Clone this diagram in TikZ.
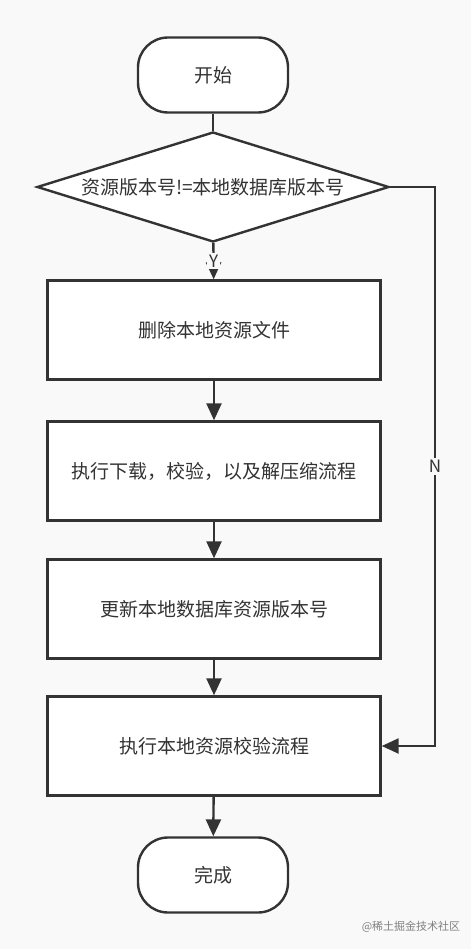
\documentclass[tikz,border=0pt]{standalone}
\usepackage{fontspec}
\setmainfont{Noto Sans CJK SC}
\usetikzlibrary{shapes.geometric,arrows.meta}
\definecolor{ink}{HTML}{333333}
\definecolor{paper}{HTML}{F9F9F9}

\begin{document}
\begin{tikzpicture}[x=1pt,y=-1pt,
  every node/.style={inner sep=0pt,text=ink,font=\fontsize{19}{22}\selectfont},
  box/.style={draw=ink,line width=2.4pt,fill=white,minimum width=333pt,minimum height=99pt},
  term/.style={draw=ink,line width=2.4pt,fill=white,rounded corners=30pt,minimum width=150pt,minimum height=75pt},
  test/.style={diamond,draw=ink,line width=2.4pt,fill=white,aspect=3.18,minimum width=352pt,minimum height=110pt},
  flow/.style={draw=ink,line width=2.4pt,-{Triangle[length=17pt,width=15pt]}},
  tag/.style={fill=paper,inner sep=2pt,font=\fontsize{17}{20}\selectfont}]
\fill[paper] (0,0) rectangle (471,949);
\node[term] (start) at (213,75) {开始};
\node[test] (check) at (213,187) {资源版本号!=本地数据库版本号};
\node[box] (remove) at (214,330) {删除本地资源文件};
\node[box] (fetch) at (214,471) {执行下载，校验，以及解压缩流程};
\node[box] (update) at (214,609) {更新本地数据库资源版本号};
\node[box] (verify) at (214,746) {执行本地资源校验流程};
\node[term] (done) at (213,875) {完成};
\coordinate (corner) at (435,187);
\draw[draw=ink,line width=2.4pt] (start)--(check);
\draw[flow] (check)--node[tag] (yes) {Y} (remove);
\draw[flow] (remove)--(fetch);
\draw[flow] (fetch)--(update);
\draw[flow] (update)--(verify);
\draw[flow] (verify)--(done);
\draw[flow] (check.east)--(corner)--node[tag,pos=.5] (no) {N} (corner|-verify.east)--(verify.east);
\node[text=gray,font=\fontsize{11}{13}\selectfont] (mark) at (411,927) {@稀土掘金技术社区};
\end{tikzpicture}
\end{document}
